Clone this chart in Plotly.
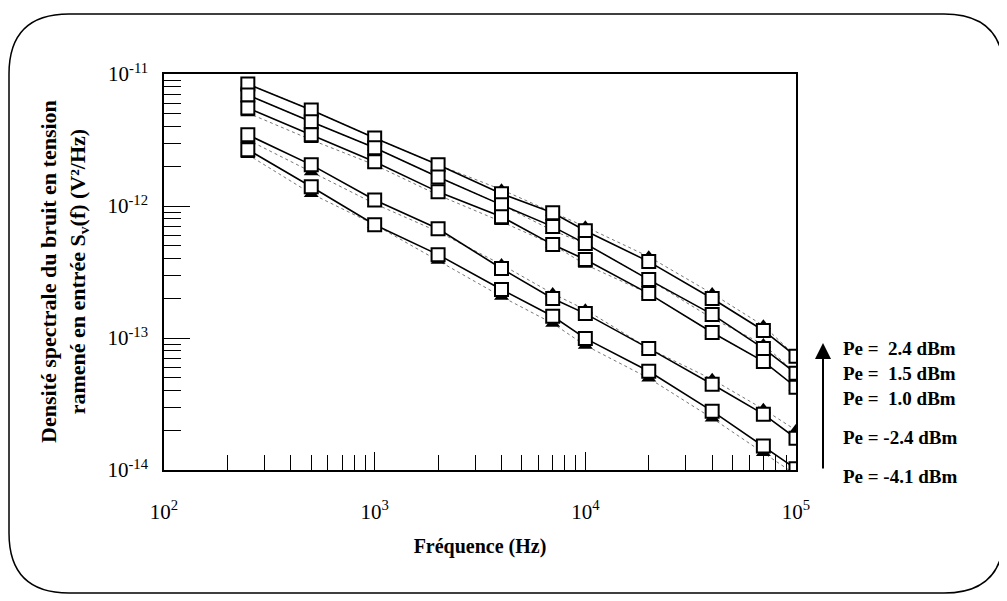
import plotly.graph_objects as go

freq = [250, 500, 1000, 2000, 4000, 7000, 10000, 20000, 40000, 70000, 100000]

labels = ["Pe =  2.4 dBm", "Pe =  1.5 dBm", "Pe =  1.0 dBm", "Pe = -2.4 dBm", "Pe = -4.1 dBm"]

sq_p24 = [8.4e-12, 5.34e-12, 3.28e-12, 2.05e-12, 1.24e-12, 8.9e-13, 6.5e-13, 3.79e-13, 1.99e-13, 1.14e-13, 7.26e-14]
sq_p15 = [6.93e-12, 4.34e-12, 2.76e-12, 1.66e-12, 1.02e-12, 6.98e-13, 5.19e-13, 2.77e-13, 1.51e-13, 8.34e-14, 5.4e-14]
sq_p10 = [5.53e-12, 3.46e-12, 2.16e-12, 1.28e-12, 8.3e-13, 5.1e-13, 3.93e-13, 2.17e-13, 1.10e-13, 6.65e-14, 4.24e-14]
sq_m24 = [3.46e-12, 2.05e-12, 1.11e-12, 6.73e-13, 3.36e-13, 1.99e-13, 1.53e-13, 8.34e-14, 4.46e-14, 2.65e-14, 1.74e-14]
sq_m41 = [2.67e-12, 1.40e-12, 7.22e-13, 4.28e-13, 2.33e-13, 1.46e-13, 9.93e-14, 5.6e-14, 2.79e-14, 1.52e-14, 1.02e-14]

tri_p24 = [8.4e-12, 5.34e-12, 3.28e-12, 2.05e-12, 1.33e-12, 8.9e-13, 6.97e-13, 4.13e-13, 2.17e-13, 1.24e-13, 7.26e-14]
tri_p15 = [6.93e-12, 4.34e-12, 2.76e-12, 1.66e-12, 1.02e-12, 6.51e-13, 5.19e-13, 2.77e-13, 1.41e-13, 8.94e-14, 5.4e-14]
tri_p10 = [5.07e-12, 3.17e-12, 2.05e-12, 1.21e-12, 7.61e-13, 5.1e-13, 3.6e-13, 2.17e-13, 1.10e-13, 6.65e-14, 4.24e-14]
tri_m24 = [3.17e-12, 1.81e-12, 1.04e-12, 6.39e-13, 3.6e-13, 2.17e-13, 1.64e-13, 8.34e-14, 4.86e-14, 2.89e-14, 2.0e-14]
tri_m41 = [2.45e-12, 1.24e-12, 7.22e-13, 3.86e-13, 2.06e-13, 1.29e-13, 8.79e-14, 4.96e-14, 2.47e-14, 1.35e-14, 9.2e-15]

squares = [sq_p24, sq_p15, sq_p10, sq_m24, sq_m41]
triangles = [tri_p24, tri_p15, tri_p10, tri_m24, tri_m41]

x_tickvals = [1e2, 1e3, 1e4, 1e5]
x_ticktext = ["10<sup>2</sup>", "10<sup>3</sup>", "10<sup>4</sup>", "10<sup>5</sup>"]
y_tickvals = [1e-14, 1e-13, 1e-12, 1e-11]
y_ticktext = ["10<sup>-14</sup>", "10<sup>-13</sup>", "10<sup>-12</sup>", "10<sup>-11</sup>"]

x_minor = [m * 10 ** e for e in (2, 3, 4) for m in range(2, 10)]
y_minor = [m * 10.0 ** e for e in (-14, -13, -12) for m in range(2, 10)]

FONT = "Liberation Serif"

fig = go.Figure()

for tri in triangles:
    fig.add_trace(go.Scatter(
        x=freq, y=tri, mode="lines+markers",
        line=dict(color="#777777", width=1, dash="dot"),
        marker=dict(symbol="triangle-up", size=13, color="black"),
        showlegend=False, hoverinfo="skip"))

for name, sq in zip(labels, squares):
    fig.add_trace(go.Scatter(
        x=freq, y=sq, mode="lines+markers", name=name,
        line=dict(color="black", width=1.6),
        marker=dict(symbol="square", size=13, color="white",
                    line=dict(color="black", width=2)),
        showlegend=False))

# page geometry (pixels); the page body adds an 8px offset
OFF = 8
W, H = 1007 - OFF, 601 - OFF
L, R, T, B = 164, 796, 74, 470
pw, ph = R - L, B - T

def px(x):
    return (x - L) / pw

def py(y):
    return (B - y) / ph

# rounded outer frame
bl, br, bt, bb, rad = 9, 1004, 14, 593, 60
xl, xr, yt, yb = px(bl), px(br), py(bt), py(bb)
rx, ry = rad / pw, rad / ph
path = (f"M {xl+rx},{yt} L {xr-rx},{yt} Q {xr},{yt} {xr},{yt-ry} "
        f"L {xr},{yb+ry} Q {xr},{yb} {xr-rx},{yb} "
        f"L {xl+rx},{yb} Q {xl},{yb} {xl},{yb+ry} "
        f"L {xl},{yt-ry} Q {xl},{yt} {xl+rx},{yt} Z")

fig.add_shape(type="path", xref="paper", yref="paper", path=path,
              line=dict(color="black", width=1.5), layer="below")

annotations = []
annotations.append(dict(
    x=px(64), y=0.5, xref="paper", yref="paper",
    text="<b>Densité spectrale du bruit en tension<br>ramené en entrée S<sub>v</sub>(f) (V²/Hz)</b>",
    textangle=-90, showarrow=False, xanchor="center", yanchor="middle",
    font=dict(family=FONT, size=22, color="black")))

label_y = [348, 373, 398, 437, 476]
for lab, yy in zip(labels, label_y):
    annotations.append(dict(
        x=px(842), y=py(yy), xref="paper", yref="paper", text="<b>" + lab + "</b>",
        showarrow=False, xanchor="left", yanchor="middle", borderpad=0,
        font=dict(family=FONT, size=19, color="black")))

annotations.append(dict(
    x=px(823), y=py(343), xref="paper", yref="paper", text="",
    showarrow=True, ax=0, ay=127, arrowhead=2, arrowsize=1.6, arrowwidth=2,
    arrowcolor="black"))

fig.update_layout(
    width=W, height=H,
    margin=dict(l=L - OFF, r=(W + OFF) - R, t=T - OFF, b=(H + OFF) - B),
    paper_bgcolor="white", plot_bgcolor="white",
    font=dict(family=FONT, color="black"),
    annotations=annotations,
    xaxis=dict(
        type="log", range=[2, 5], showgrid=False, zeroline=False,
        showline=True, linecolor="black", linewidth=1.5, mirror=True,
        tickmode="array", tickvals=x_tickvals, ticktext=x_ticktext,
        ticks="inside", ticklen=18, tickwidth=1, tickcolor="black",
        ticklabelstandoff=22,
        tickfont=dict(family=FONT, size=21, color="black"),
        minor=dict(tickmode="array", tickvals=x_minor, ticks="inside",
                   ticklen=15, tickwidth=1, tickcolor="black", showgrid=False),
        title=dict(text="<b>Fréquence (Hz)</b>", standoff=16,
                   font=dict(family=FONT, size=20, color="black")),
    ),
    yaxis=dict(
        type="log", range=[-14, -11], showgrid=False, zeroline=False,
        showline=True, linecolor="black", linewidth=1.5, mirror=True,
        tickmode="array", tickvals=y_tickvals, ticktext=y_ticktext,
        ticks="inside", ticklen=26, tickwidth=1, tickcolor="black",
        ticklabelstandoff=10,
        tickfont=dict(family=FONT, size=21, color="black"),
        minor=dict(tickmode="array", tickvals=y_minor, ticks="inside",
                   ticklen=17, tickwidth=1, tickcolor="black", showgrid=False),
    ),
)

fig.write_html("out.html")
